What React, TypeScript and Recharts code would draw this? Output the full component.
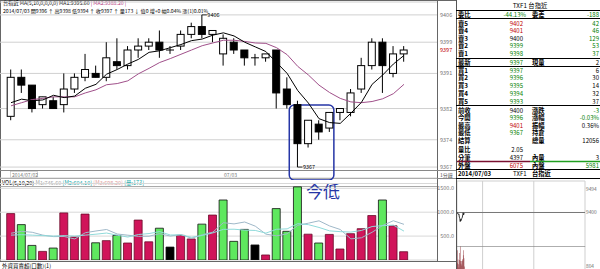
import React from 'react';
import {
  ComposedChart,
  Bar,
  Line,
  XAxis,
  YAxis,
  CartesianGrid,
  ReferenceLine,
  ReferenceArea,
  Cell,
} from 'recharts';

// ---- bar sequence (1-minute K bars, 07/02 close → 07/03 open) ----
const seq = [1, 2, 3, 4, 5, 6, 7, 8, 9, 10, 11, 12, 13, 14, 15, 16, 17, 18, 19, 20, 21, 22, 23, 24, 25, 26, 27, 28, 29, 30, 31, 32, 33, 34, 35, 36, 37, 38];
// first bar of the 07/03 session
const sessionStart = 21;

const opens = [9380, 9390, 9388, 9383, 9384, 9383, 9387, 9390, 9391, 9390, 9394, 9393, 9397, 9398, 9399, 9397, 9398, 9401, 9403, 9401, 9396, 9399, 9397, 9395, 9395, 9397, 9387, 9383, 9373, 9378, 9377, 9381, 9381, 9387, 9393, 9399, 9391, 9396];
const highs = [9392, 9392, 9388, 9385, 9385, 9391, 9391, 9396, 9393, 9399, 9400, 9398, 9400, 9400, 9402, 9398, 9402, 9404, 9406, 9402, 9401, 9400, 9397, 9396, 9396, 9397, 9390, 9384, 9379, 9379, 9381, 9382, 9387, 9395, 9400, 9400, 9398, 9398];
const lows = [9379, 9386, 9381, 9382, 9382, 9381, 9386, 9389, 9390, 9389, 9392, 9392, 9395, 9397, 9395, 9396, 9397, 9400, 9400, 9399, 9393, 9396, 9393, 9393, 9394, 9382, 9382, 9367, 9372, 9374, 9376, 9379, 9380, 9386, 9392, 9386, 9390, 9394];
const closes = [9390, 9388, 9382, 9385, 9382, 9387, 9390, 9392, 9390, 9395, 9393, 9397, 9398, 9399, 9397, 9397, 9401, 9403, 9401, 9402, 9400, 9397, 9395, 9395, 9396, 9386, 9383, 9373, 9379, 9376, 9381, 9382, 9386, 9393, 9399, 9393, 9396, 9397];

const ma5 = [9383.5, 9384.4, 9384.0, 9384.2, 9385.4, 9384.8, 9385.2, 9387.2, 9388.2, 9390.8, 9392.0, 9393.4, 9394.6, 9396.4, 9396.8, 9397.6, 9398.4, 9399.4, 9399.8, 9400.8, 9401.4, 9400.6, 9399.0, 9397.8, 9396.6, 9393.8, 9391.0, 9386.6, 9383.4, 9379.4, 9378.4, 9378.2, 9380.8, 9383.6, 9388.2, 9390.6, 9393.4, 9395.6];
const ma10 = [9382.7, 9383.5, 9384.3, 9384.6, 9385.0, 9385.0, 9385.0, 9386.0, 9386.8, 9388.1, 9388.4, 9389.1, 9390.9, 9392.3, 9393.8, 9394.8, 9395.9, 9397.0, 9398.1, 9398.8, 9399.5, 9399.5, 9399.2, 9398.8, 9398.7, 9397.6, 9395.8, 9392.8, 9390.6, 9388.0, 9386.1, 9384.6, 9383.7, 9383.5, 9383.8, 9384.5, 9385.8, 9388.2];

const volumes = [970, 740, 305, 180, 250, 985, 480, 960, 360, 405, 515, 355, 835, 380, 665, 270, 515, 440, 750, 940, 1255, 390, 640, 315, 105, 1075, 600, 1530, 540, 355, 535, 230, 550, 655, 930, 1255, 715, 173];
const volMa5 = [560, 600, 580, 520, 489, 492, 440, 571, 607, 638, 544, 519, 494, 498, 550, 501, 533, 454, 528, 583, 780, 755, 795, 708, 541, 505, 547, 725, 770, 820, 712, 638, 442, 465, 580, 724, 821, 746];
const volMa10 = [520, 530, 520, 510, 500, 510, 500, 520, 540, 564, 518, 480, 533, 553, 594, 523, 526, 474, 513, 567, 641, 644, 625, 618, 562, 643, 651, 760, 739, 681, 609, 593, 584, 618, 700, 718, 730, 604];

// axis ticks
const priceTicks = [9367, 9374, 9382, 9391, 9399, 9406];
const lastPrice = 9397;
const volTicks = [0, 500, 1000, 1500];
const miniPriceTicks = [9337, 9368, 9400, 9431, 9462, 9494];
const miniVolTicks = [1544];
const miniMinuteTicks = [0, 60, 120, 180, 240, 300];

// quote board
const askLabels = ['賣5', '賣4', '賣3', '賣2', '賣1'];
const askPrices = [9402, 9401, 9400, 9399, 9398];
const askSizes = [42, 46, 129, 53, 37];
const bidLabels = ['買1', '買2', '買3', '買4', '買5'];
const bidPrices = [9397, 9396, 9395, 9394, 9393];
const bidSizes = [6, 30, 14, 32, 37];
const prevClose = 9400;

const data = seq.map((idx, k) => ({
  idx,
  open: opens[k],
  high: highs[k],
  low: lows[k],
  close: closes[k],
  range: [lows[k], highs[k]],
  ma5: ma5[k],
  ma10: ma10[k],
  vol: volumes[k],
  vma5: volMa5[k],
  vma10: volMa10[k],
}));

// today's minutes for the small intraday chart
const intraday = seq
  .filter((idx) => idx >= sessionStart)
  .map((idx, m) => ({ minute: m + 0.5, price: closes[idx - 1], vol: volumes[idx - 1] }));

const maxHigh = Math.max(...highs);
const minLow = Math.min(...lows);

const RED = '#d0145a';
const GREEN = '#5fe85f';
const UP_TXT = '#c00000';
const DN_TXT = '#008000';
const FONT = '"Noto Sans CJK TC", "Liberation Sans", sans-serif';

const volColor = (k: number) => {
  const ref = k === 0 ? opens[0] : closes[k - 1];
  if (closes[k] > ref) return RED;
  if (closes[k] < ref) return GREEN;
  return '#000';
};
const volEdge = (k: number) => (volColor(k) === RED ? '#6a0a28' : '#111');

const Candle = (props: any) => {
  const { x, y, width, height, payload } = props;
  if (!payload) return null;
  const { open, close, high, low } = payload;
  const top = Math.min(y, y + height);
  const h = Math.abs(height);
  const per = high === low ? 0 : h / (high - low);
  const yOf = (v: number) => top + (high - v) * per;
  const cx = x + width / 2;
  const bTop = yOf(Math.max(open, close));
  const bBot = yOf(Math.min(open, close));
  const up = close > open;
  return (
    <g>
      <line x1={cx} x2={cx} y1={top} y2={top + h} stroke="#000" strokeWidth={1} />
      {open === close ? (
        <line x1={x} x2={x + width} y1={bTop} y2={bTop} stroke="#000" strokeWidth={1} />
      ) : (
        <rect
          x={x + 0.5}
          y={bTop}
          width={width - 1}
          height={Math.max(bBot - bTop, 1)}
          fill={up ? '#fff' : '#000'}
          stroke="#000"
          strokeWidth={1}
        />
      )}
      {high === maxHigh && (
        <g>
          <line x1={cx} x2={cx + 5} y1={top} y2={top} stroke="#000" strokeWidth={0.8} />
          <text x={cx + 5.5} y={top + 2} fontSize={5.5} fontFamily={FONT} fill="#000">{high}</text>
        </g>
      )}
      {low === minLow && (
        <g>
          <line x1={cx} x2={cx + 5} y1={top + h} y2={top + h} stroke="#000" strokeWidth={0.8} />
          <text x={cx + 5.5} y={top + h + 2} fontSize={5.5} fontFamily={FONT} fill="#000">{low}</text>
        </g>
      )}
    </g>
  );
};

const PriceTick = (props: any) => {
  const { y, payload } = props;
  return (
    <text x={440} y={y + 2} fontSize={5.5} fontFamily={FONT} fill="#777">
      {payload.value}
    </text>
  );
};

const VolTick = (props: any) => {
  const { y, payload } = props;
  return (
    <text x={454} y={y + 2} fontSize={5.5} fontFamily={FONT} fill="#777" textAnchor="end">
      {payload.value.toFixed(1)}
    </text>
  );
};

// mini chart is 143 wide with its plot ending at 128
const MiniTick = (props: any) => {
  const { y, payload } = props;
  return (
    <text x={129} y={y + 2} fontSize={4.8} fontFamily={FONT} fill="#666">
      {payload.value}
    </text>
  );
};

const xDomain: [number, number] = [-0.036, 41.11];

const Board = () => {
  const lx = 458;
  const px = 523;
  const l2 = 532;
  const rx = 599;
  const colorOf = (p: number) => (p > prevClose ? UP_TXT : p < prevClose ? DN_TXT : '#000');
  const lab = (t: string, x: number, y: number) => (
    <text x={x} y={y} fontSize={6.3} fontWeight={700} fontFamily={FONT} fill="#000">{t}</text>
  );
  const num = (t: string | number, x: number, y: number, fill = '#000') => (
    <text x={x} y={y} fontSize={6} fontFamily={FONT} fill={fill} textAnchor="end">{t}</text>
  );
  const askY = [25.5, 33, 40.5, 48, 55.5];
  const bidY = [72.5, 80, 87.5, 95.5, 103.5];
  return (
    <svg width={600} height={269} style={{ position: 'absolute', left: 0, top: 0 }}>
      {/* frame lines */}
      <line x1={0} x2={456} y1={0.5} y2={0.5} stroke="#666" />
      <line x1={0.5} x2={0.5} y1={0} y2={262} stroke="#666" />
      <line x1={437.5} x2={437.5} y1={0} y2={262} stroke="#666" />
      <line x1={456.5} x2={456.5} y1={0} y2={269} stroke="#555" />
      <line x1={0} x2={456} y1={170.5} y2={170.5} stroke="#888" />
      <line x1={0} x2={456} y1={178.5} y2={178.5} stroke="#888" />
      <line x1={0} x2={437} y1={186.5} y2={186.5} stroke="#aaa" />
      <line x1={0} x2={456} y1={261.5} y2={261.5} stroke="#666" />

      {/* header of price panel */}
      <text x={3} y={5.4} fontSize={5.2} fontFamily={FONT} fill="#000">
        台指近 MA(5,10,0,0,0,0) MA1:9395.60 <tspan fill="#b0307a">| MA2:9388.20 |</tspan>
      </text>
      <text x={3} y={12.8} fontSize={5.1} fontFamily={FONT} fill="#000">
        2014/07/03 開9396 ↑ 高9398 低9394 ↑ 收9397 ↑ 量173 ↓ 值0 增+0 幅0.04% 漲(1)0.01%
      </text>
      <rect x={10.5} y={171.5} width={27} height={6} fill="none" stroke="#bbb" strokeWidth={0.6} />
      <text x={12} y={176.5} fontSize={5} fontFamily={FONT} fill="#777">2014/07/02</text>
      <text x={224} y={176.5} fontSize={5} fontFamily={FONT} fill="#777">07/03</text>
      <text x={2} y={184.5} fontSize={5.5} fontFamily={FONT} fill="#000">
        VOL(5,10,20) <tspan fill="#aaa">M1:745.60</tspan> <tspan fill="#2aa">[M2:604.10]</tspan>{' '}
        <tspan fill="#e0a0a0">[M3:698.20]</tspan> <tspan fill="#2aa">[量:173]</tspan>
      </text>
      <text x={2} y={268} fontSize={5.5} fontFamily={FONT} fill="#000">外資買賣超(口數)(1)</text>
      <text x={440} y={176.5} fontSize={5} fontFamily={FONT} fill="#555">1分鐘</text>

      {/* annotation text */}
      <text x={306} y={198} fontSize={17} fontFamily={FONT} fill="#2636a6">今低</text>

      {/* quote board */}
      <text x={530} y={8} fontSize={6.3} fontFamily={FONT} fill="#000" textAnchor="middle">TXF1 台指近</text>
      <line x1={456} x2={600} y1={10.5} y2={10.5} stroke="#000" />
      {lab('委比', lx, 17)}
      {num('-44.13%', 526, 17, DN_TXT)}
      {lab('委差', l2, 17)}
      {num('-188', rx, 17, DN_TXT)}
      <line x1={456} x2={600} y1={18.5} y2={18.5} stroke="#000" />
      {askLabels.map((t, k) => (
        <g key={t}>
          {lab(t, lx, askY[k])}
          {num(askPrices[k], px, askY[k], colorOf(askPrices[k]))}
          {num(askSizes[k], rx, askY[k], DN_TXT)}
        </g>
      ))}
      <line x1={456} x2={600} y1={58.5} y2={58.5} stroke="#000" />
      {lab('最新', lx, 64.5)}
      {num(lastPrice, px, 64.5, colorOf(lastPrice))}
      {lab('現量', l2, 64.5)}
      {num(2, rx, 64.5)}
      <line x1={456} x2={600} y1={66.5} y2={66.5} stroke="#000" />
      {bidLabels.map((t, k) => (
        <g key={t}>
          {lab(t, lx, bidY[k])}
          {num(bidPrices[k], px, bidY[k], colorOf(bidPrices[k]))}
          {num(bidSizes[k], rx, bidY[k])}
        </g>
      ))}
      <line x1={456} x2={600} y1={105.5} y2={105.5} stroke="#000" />
      {lab('前收', lx, 112.5)}
      {num(prevClose, px, 112.5)}
      {lab('漲跌', l2, 112.5)}
      {num(-3, rx, 112.5, DN_TXT)}
      {lab('今開', lx, 120)}
      {num(9396, px, 120, DN_TXT)}
      {lab('漲幅', l2, 120)}
      {num('-0.03%', rx, 120, DN_TXT)}
      {lab('最高', lx, 127.5)}
      {num(9401, px, 127.5, UP_TXT)}
      {lab('振幅', l2, 127.5)}
      {num('0.36%', rx, 127.5)}
      {lab('最低', lx, 135)}
      {num(minLow, px, 135, DN_TXT)}
      {lab('持倉', l2, 135)}
      {lab('結算', lx, 142.5)}
      {lab('總量', l2, 142.5)}
      {num(12056, rx, 142.5)}
      {lab('量比', lx, 152)}
      {num('2.05', px, 152)}
      {lab('分筆', lx, 159.5)}
      {num(4397, px, 159.5)}
      {lab('內量', l2, 159.5)}
      {num(3, rx, 159.5)}
      <line x1={457} x2={530} y1={161.5} y2={161.5} stroke="#7a1030" strokeWidth={1.5} />
      <line x1={530} x2={600} y1={161.5} y2={161.5} stroke="#20a020" strokeWidth={1.5} />
      {lab('外盤', lx, 167.5)}
      {num(6075, px, 167.5, UP_TXT)}
      {lab('內盤', l2, 167.5)}
      {num(5981, rx, 167.5, DN_TXT)}
      <line x1={456} x2={600} y1={169.5} y2={169.5} stroke="#000" />
      <text x={458} y={176} fontSize={6} fontWeight={700} fontFamily={FONT} fill="#000">2014/07/03</text>
      <text x={513} y={176} fontSize={6} fontFamily={FONT} fill="#000">TXF1</text>
      {lab('台指近', 532, 176)}
      <line x1={456} x2={600} y1={178.5} y2={178.5} stroke="#000" />
      {/* mini chart: current-minute volume */}
      <text x={586} y={268} fontSize={4.8} fontFamily={FONT} fill="#666">804</text>
    </svg>
  );
};

const MiniChart = () => (
  <>
    <div style={{ position: 'absolute', left: 457, top: 180 }}>
      <ComposedChart width={143} height={67} data={intraday} margin={{ top: 1, right: 0, bottom: 0, left: 0 }}>
        <CartesianGrid stroke="#cfcfcf" />
        <XAxis type="number" dataKey="minute" domain={[0, 300]} ticks={miniMinuteTicks} hide allowDataOverflow />
        <YAxis
          orientation="right"
          width={15}
          domain={[9297, 9494]}
          ticks={miniPriceTicks}
          tick={MiniTick}
          axisLine={false}
          tickLine={false}
          allowDataOverflow
        />
        <ReferenceLine y={prevClose} stroke="#777" />
        <Line dataKey="price" stroke="#000" strokeWidth={0.8} dot={false} isAnimationActive={false} />
      </ComposedChart>
    </div>
    <div style={{ position: 'absolute', left: 457, top: 246 }}>
      <ComposedChart width={143} height={23} data={intraday} margin={{ top: 0, right: 0, bottom: 0, left: 0 }}>
        <CartesianGrid stroke="#cfcfcf" horizontal={false} />
        <XAxis type="number" dataKey="minute" domain={[0, 300]} ticks={miniMinuteTicks} hide allowDataOverflow />
        <YAxis
          orientation="right"
          width={15}
          domain={[0, 1544]}
          ticks={miniVolTicks}
          tick={MiniTick}
          axisLine={false}
          tickLine={false}
          allowDataOverflow
        />
        <ReferenceLine y={1544} stroke="#777" />
        <Bar dataKey="vol" barSize={1} fill="#7a0a10" isAnimationActive={false} />
      </ComposedChart>
    </div>
  </>
);

export default function App() {
  return (
    <div
      style={{
        position: 'fixed',
        left: 0,
        top: 0,
        width: 600,
        height: 269,
        background: '#fff',
        overflow: 'hidden',
        fontFamily: FONT,
      }}
    >
      <Board />
      <MiniChart />
      <div style={{ position: 'absolute', left: 0, top: 0 }}>
        <ComposedChart width={456} height={180} data={data} margin={{ top: 2, right: 0, bottom: 2, left: 0 }}>
          <CartesianGrid vertical={false} stroke="#d0d0d0" />
          <XAxis type="number" dataKey="idx" domain={xDomain} ticks={seq} hide allowDataOverflow />
          <YAxis
            orientation="right"
            width={19}
            domain={[9364.2, 9409.3]}
            ticks={priceTicks}
            tick={PriceTick}
            axisLine={false}
            tickLine={false}
            allowDataOverflow
          />
          <ReferenceArea
            x1={27.2}
            x2={31.4}
            y1={9363.7}
            y2={9382.9}
            ifOverflow="visible"
            fill="none"
            stroke="#2636a6"
            strokeWidth={1.5}
            radius={5}
          />
          <ReferenceLine
            y={lastPrice}
            stroke="none"
            ifOverflow="visible"
            label={{ value: String(lastPrice), position: 'right', fill: '#c00000', fontSize: 5.5, offset: 3 }}
          />
          <Line dataKey="ma10" stroke="#a0508a" strokeWidth={1} dot={false} isAnimationActive={false} />
          <Bar dataKey="range" barSize={8} shape={Candle} isAnimationActive={false} />
          <Line dataKey="ma5" stroke="#000" strokeWidth={1} dot={false} isAnimationActive={false} />
        </ComposedChart>
      </div>
      <div style={{ position: 'absolute', left: 0, top: 178 }}>
        <ComposedChart width={456} height={84} data={data} margin={{ top: 5.5, right: 0, bottom: 2, left: 0 }}>
          <CartesianGrid vertical={false} stroke="#d8d8d8" />
          <XAxis type="number" dataKey="idx" domain={xDomain} ticks={seq} hide allowDataOverflow />
          <YAxis
            orientation="right"
            width={19}
            domain={[0, 1600]}
            ticks={volTicks}
            tick={VolTick}
            axisLine={false}
            tickLine={false}
            allowDataOverflow
          />
          <Bar dataKey="vol" barSize={8} isAnimationActive={false} strokeWidth={0.8}>
            {data.map((d, k) => (
              <Cell key={d.idx} fill={volColor(k)} stroke={volEdge(k)} />
            ))}
          </Bar>
          <Line dataKey="vma5" stroke="#9fb8c8" strokeWidth={1} dot={false} isAnimationActive={false} />
          <Line dataKey="vma10" stroke="#8fdada" strokeWidth={1} dot={false} isAnimationActive={false} />
        </ComposedChart>
      </div>
    </div>
  );
}
